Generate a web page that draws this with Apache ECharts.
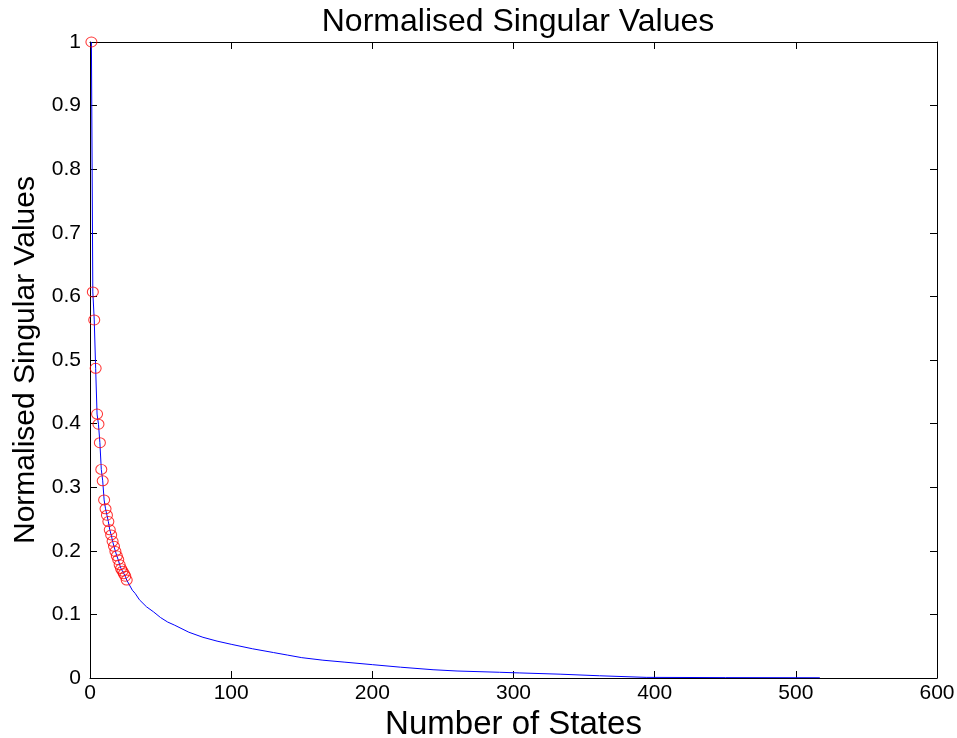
<!DOCTYPE html>
<html>
<head>
<meta charset="utf-8">
<script src="https://cdn.jsdelivr.net/npm/echarts@6/dist/echarts.min.js"></script>
<style>
  html, body { margin: 0; padding: 0; background: #fff; }
  #chart { width: 957px; height: 738px; }
</style>
</head>
<body>
<div id="chart"></div>
<script>
// Normalised singular values of the state matrix, sorted descending
const lineStates = [1, 2, 3, 4, 5, 6, 7, 8, 9, 10, 11, 12, 13, 14, 15, 16, 17, 18, 19, 20, 21, 22, 23, 24, 25, 26,
  30, 32, 35, 40, 45, 50, 55, 60, 70, 80, 90, 100, 115, 130, 140, 150, 165, 180, 200, 220, 243, 260, 290, 304,
  333, 361, 394, 450, 517];
const lineValues = [1.0, 0.607, 0.563, 0.487, 0.415, 0.399, 0.370, 0.328, 0.310, 0.280, 0.266, 0.256, 0.246,
  0.233, 0.225, 0.215, 0.207, 0.199, 0.192, 0.186, 0.178, 0.172, 0.168, 0.164, 0.160, 0.154,
  0.138, 0.133, 0.123, 0.112, 0.104, 0.095, 0.088, 0.083, 0.072, 0.064, 0.058, 0.053, 0.046, 0.040,
  0.036, 0.032, 0.028, 0.025, 0.021, 0.017, 0.013, 0.011, 0.009, 0.008, 0.006, 0.0035, 0.001, 0.0006, 0.0004];

// Retained states, marked with circles
const keptStates = [1, 2, 3, 4, 5, 6, 7, 8, 9, 10, 11, 12, 13, 14, 15, 16, 17, 18, 19, 20, 21, 22, 23, 24, 25, 26];
const keptValues = [1.0, 0.607, 0.563, 0.487, 0.415, 0.399, 0.370, 0.328, 0.310, 0.280, 0.266, 0.256, 0.246,
  0.233, 0.225, 0.215, 0.207, 0.199, 0.192, 0.186, 0.178, 0.172, 0.168, 0.164, 0.160, 0.154];

const xTicks = [0, 100, 200, 300, 400, 500, 600];
const yTicks = [0, 0.1, 0.2, 0.3, 0.4, 0.5, 0.6, 0.7, 0.8, 0.9, 1];

const FONT = '"Liberation Sans", Arial, sans-serif';
const chart = echarts.init(document.getElementById('chart'), null, { renderer: 'canvas' });

// Box axes: lines stay on the plot edges, ticks point inwards
const axisLine = { show: true, onZero: false, lineStyle: { color: '#000', width: 1 } };
const tickIn = { show: true, inside: true, length: 7, lineStyle: { color: '#000', width: 1 } };

chart.setOption({
  backgroundColor: '#fff',
  animation: false,
  title: {
    text: 'Normalised Singular Values',
    left: 513, top: 1, textAlign: 'center',
    textStyle: { fontFamily: FONT, fontSize: 32, fontWeight: 'normal', color: '#000' }
  },
  grid: { left: 90, right: 20, top: 42, bottom: 60, containLabel: false, outerBoundsMode: 'none' },
  xAxis: [{
    type: 'value', min: xTicks[0], max: xTicks[xTicks.length - 1], interval: 100,
    name: 'Number of States', nameLocation: 'middle', nameGap: 19,
    nameTextStyle: { fontFamily: FONT, fontSize: 33, color: '#000' },
    axisLine, axisTick: tickIn, splitLine: { show: false },
    axisLabel: { fontFamily: FONT, fontSize: 21, color: '#000', margin: 5 }
  }, {
    type: 'value', position: 'top', min: xTicks[0], max: xTicks[xTicks.length - 1], interval: 100,
    axisLine, axisTick: tickIn, axisLabel: { show: false }, splitLine: { show: false }
  }],
  yAxis: [{
    type: 'value', min: yTicks[0], max: yTicks[yTicks.length - 1], interval: 0.1,
    name: 'Normalised Singular Values', nameLocation: 'middle', nameGap: 48,
    nameTextStyle: { fontFamily: FONT, fontSize: 30, color: '#000' },
    axisLine, axisTick: tickIn, splitLine: { show: false },
    axisLabel: { fontFamily: FONT, fontSize: 21, color: '#000', margin: 9,
      formatter: v => String(Math.round(v * 10) / 10) }
  }, {
    type: 'value', position: 'right', min: yTicks[0], max: yTicks[yTicks.length - 1], interval: 0.1,
    axisLine, axisTick: tickIn, axisLabel: { show: false }, splitLine: { show: false }
  }],
  series: [{
    type: 'line',
    data: lineStates.map((s, i) => [s, lineValues[i]]),
    showSymbol: false,
    lineStyle: { color: '#0000ff', width: 1 },
    z: 2
  }, {
    type: 'scatter',
    data: keptStates.map((s, i) => [s, keptValues[i]]),
    symbol: 'circle', symbolSize: [11, 10],
    itemStyle: { color: 'rgba(0,0,0,0)', borderColor: '#ff0000', borderWidth: 1 },
    z: 3
  }]
});
</script>
</body>
</html>
